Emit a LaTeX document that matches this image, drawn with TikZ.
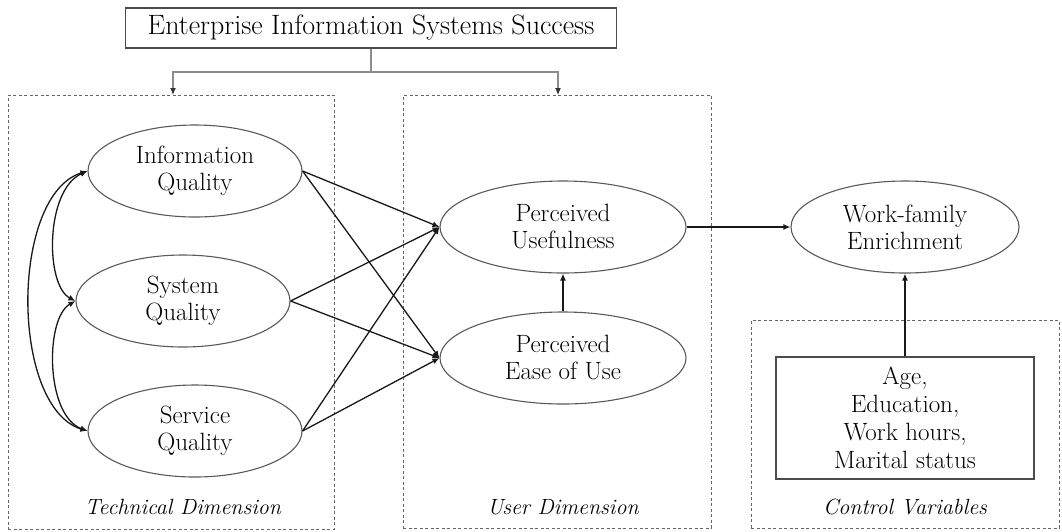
\documentclass[tikz,border=0pt]{standalone}
\usetikzlibrary{arrows.meta,shapes.geometric}
\begin{document}
\begin{tikzpicture}[x=1pt,y=-1pt,
  font=\fontsize{25}{27}\selectfont,
  ell/.style={ellipse, draw=black!65, line width=1.1pt, minimum width=#1, minimum height=92pt, align=center, inner sep=0pt},
  sbox/.style={rectangle, draw=black!70, line width=1.1pt, align=center, inner sep=0pt},
  dbox/.style={rectangle, draw=black!60, line width=0.9pt, dash pattern=on 3pt off 2.5pt, inner sep=0pt},
  lab/.style={font=\fontsize{22}{24}\selectfont\itshape},
  arr/.style={draw=black!90, line width=1.3pt, -{Latex[length=7pt,width=6pt]}},
  darr/.style={draw=black!90, line width=1.3pt, {Latex[length=7pt,width=6pt]}-{Latex[length=7pt,width=6pt]}},
  garr/.style={draw=black!45, line width=1.1pt, -{Latex[length=7pt,width=6pt,black!80]}}
]
\useasboundingbox (0,0) rectangle (1062,531);

% dashed boxes
\node[dbox, minimum width=326pt, minimum height=434pt] (tdbox) at (171,312) {};
\node[dbox, minimum width=308pt, minimum height=433pt] (udbox) at (557,311.5) {};
\node[dbox, minimum width=308pt, minimum height=208pt] (cvbox) at (905,424) {};

\node[lab] (tdlab) at (183,507) {Technical Dimension};
\node[lab] (udlab) at (563,507) {User Dimension};
\node[lab] (cvlab) at (905,507) {Control Variables};

% title
\node[sbox, minimum width=491pt, minimum height=40pt, font=\fontsize{28}{30}\selectfont] (title) at (371,28) {Enterprise Information Systems Success};
\coordinate (j) at (371,72);
\coordinate (ta) at (173,95);
\coordinate (ua) at (558,95);
\draw[garr] (title.south) -- (j) -| (ta);
\draw[garr] (j) -| (ua);

% ellipses
\node[ell=214pt] (iq) at (195,171) {Information\\Quality};
\node[ell=214pt] (sq) at (183,301) {System\\Quality};
\node[ell=214pt] (vq) at (195,431) {Service\\Quality};
\node[ell=246pt] (pu) at (563,227) {Perceived\\Usefulness};
\node[ell=246pt] (pe) at (563,358) {Perceived\\Ease of Use};
\node[ell=228pt] (wf) at (905,227) {Work-family\\Enrichment};
\node[sbox, minimum width=258pt, minimum height=122pt, font=\fontsize{25}{28}\selectfont] (cv) at (905,418) {Age,\\Education,\\Work hours,\\Marital status};

% paths
\foreach \s in {iq,sq,vq}{
  \draw[arr] (\s.east) -- (pu.west);
  \draw[arr] (\s.east) -- (pe.west);
}
\draw[arr] (pe.north) -- (pu.south);
\draw[arr] (pu.east) -- (wf.west);
\draw[arr] (cv.north) -- (wf.south);

% correlations
\draw[darr] (iq.west) .. controls (10,195) and (10,407) .. (vq.west);
\draw[darr] (iq.west) .. controls (45,190) and (45,285) .. (sq.west);
\draw[darr] (sq.west) .. controls (45,318) and (45,415) .. (vq.west);
\end{tikzpicture}
\end{document}
